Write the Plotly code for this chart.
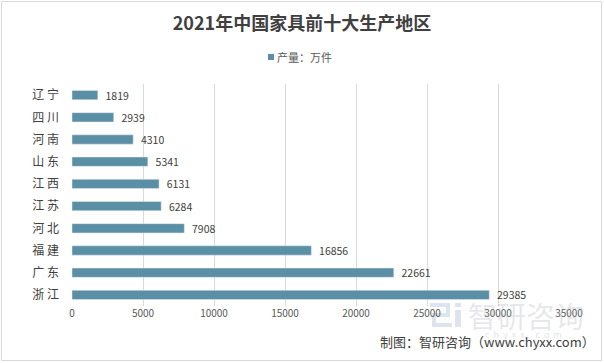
import plotly.graph_objects as go

regions = ["辽\u00a0宁", "四\u00a0川", "河\u00a0南", "山\u00a0东", "江\u00a0西", "江\u00a0苏", "河\u00a0北", "福\u00a0建", "广\u00a0东", "浙\u00a0江"]
output = [1819, 2939, 4310, 5341, 6131, 6284, 7908, 16856, 22661, 29385]
x_ticks = [0, 5000, 10000, 15000, 20000, 25000, 30000, 35000]
series_name = "产量：万件"

FONT = "Noto Sans CJK SC"
BAR_COLOR = "#5B8FA6"
W, H = 604, 363
L, R, T, B = 72, 35, 84, 57
pw, ph = W - L - R, H - T - B

def px(x):
    return (x - L) / pw

def py(y):
    return 1 - (y - T) / ph

fig = go.Figure()
fig.add_trace(go.Bar(
    y=regions, x=output, orientation="h",
    name=series_name,
    marker=dict(color=BAR_COLOR),
    text=["\u00a0\u00a0" + str(v) for v in output], textposition="outside",
    constraintext="none",
    textfont=dict(size=10.5, color="#404040", family=FONT),
    cliponaxis=False,
))

fig.update_layout(
    width=W, height=H,
    margin=dict(l=L, r=R, t=T, b=B, autoexpand=False),
    paper_bgcolor="white", plot_bgcolor="white",
    font=dict(family=FONT, color="#595959"),
    bargap=0.58,
    showlegend=False,
    title=dict(text="<b>2021年中国家具前十大生产地区</b>", x=0.5, xanchor="center",
               y=1 - 24 / H, yanchor="middle", font=dict(size=18, color="#404040", family=FONT)),
    xaxis=dict(range=[0, 35000], tickvals=x_ticks, ticktext=[str(v) for v in x_ticks],
               showgrid=True, gridcolor="#D9D9D9", automargin=False,
               gridwidth=1, zeroline=False, showline=False, ticks="",
               tickfont=dict(size=10, color="#595959")),
    yaxis=dict(autorange="reversed", showgrid=False, showline=False, ticks="", automargin=False,
               ticklabelstandoff=12, tickfont=dict(size=12, color="#404040")),
)

# outer border
fig.add_shape(type="rect", xref="paper", yref="paper",
              x0=px(1.5), x1=px(601.5), y0=py(360.5), y1=py(1.5),
              line=dict(color="#D9D9D9", width=1), fillcolor="rgba(0,0,0,0)", layer="below")

# legend (small square + label)
fig.add_shape(type="rect", xref="paper", yref="paper",
              x0=px(268), x1=px(274), y0=py(60), y1=py(54),
              line=dict(width=0), fillcolor=BAR_COLOR)
fig.add_annotation(text=series_name, xref="paper", yref="paper", x=px(275), y=py(57),
                   xanchor="left", yanchor="middle", showarrow=False,
                   font=dict(size=11, color="#595959", family=FONT))

# watermark logo (approximate blocks)
LOGO = "rgba(150,170,205,0.32)"
for (a, b, c, d) in [(430, 303, 450, 307), (446, 307, 450, 313), (432, 313, 450, 317),
                     (432, 317, 436, 323), (432, 323, 452, 327),
                     (455, 303, 461, 307), (455, 310, 461, 327)]:
    fig.add_shape(type="rect", xref="paper", yref="paper", layer="below",
                  x0=px(a), x1=px(c), y0=py(d), y1=py(b),
                  line=dict(width=0), fillcolor=LOGO)
fig.add_annotation(text="智研咨询", xref="paper", yref="paper", x=px(466), y=py(315),
                   xanchor="left", yanchor="middle",
                   showarrow=False, font=dict(size=29, color="rgba(165,172,182,0.28)", family=FONT))
fig.add_annotation(text="c  h  y  x  x  .  c  o  m", xref="paper", yref="paper", x=px(523), y=py(334),
                   xanchor="center", yanchor="middle",
                   showarrow=False, font=dict(size=9, color="rgba(165,172,182,0.35)", family=FONT))

# source
fig.add_annotation(text="制图：智研咨询（www.chyxx.com）", xref="paper", yref="paper",
                   x=px(597), y=py(341), xanchor="right", yanchor="middle", showarrow=False,
                   font=dict(size=13, color="#404040", family=FONT))

fig.write_html("out.html", config={"displayModeBar": False},
               post_script="document.body.style.margin='0';")
